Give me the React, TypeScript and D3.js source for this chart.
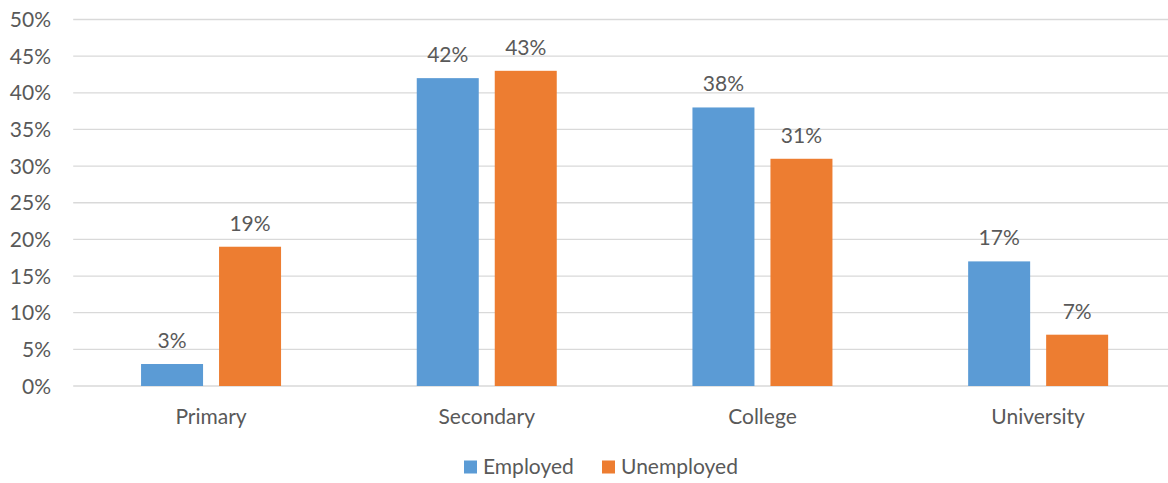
import React from "react";
import * as d3 from "d3";

const categories = ["Primary", "Secondary", "College", "University"];
const seriesNames = ["Employed", "Unemployed"];
const employed = [3, 42, 38, 17];
const unemployed = [19, 43, 31, 7];
const yTicks = [0, 5, 10, 15, 20, 25, 30, 35, 40, 45, 50];
const colors = ["#5B9BD5", "#ED7D31"];

const W = 1168;
const H = 483;
const FONT = "Lato, 'Open Sans', sans-serif";
const FS = 21;
const TXT = "#595959";

export default function App() {
  const left = 73.2;
  const right = 1176;
  const top = 19.5;
  const bottom = 386;
  const x = d3.scaleBand<string>().domain(categories).range([left, right]).paddingInner(0).paddingOuter(0);
  const y = d3.scaleLinear().domain([0, 50]).range([bottom, top]);
  const barW = 62;
  const gap = 16;
  const series = [employed, unemployed];

  return (
    <svg width={W} height={H} style={{ position: "absolute", left: 0, top: 0, background: "#fff" }}>
      <rect x={0} y={0} width={W} height={H} fill="#fff" />
      {yTicks.map((t) => (
        <g key={t}>
          <line x1={left} x2={W} y1={y(t)} y2={y(t)} stroke="#D9D9D9" strokeWidth={1.3} />
          <text x={51} y={y(t)} dy="0.36em" textAnchor="end" fontFamily={FONT} fontSize={FS} fill={TXT}>
            {t}%
          </text>
        </g>
      ))}
      {categories.map((c, i) => {
        const cx = (x(c) as number) + x.bandwidth() / 2;
        return (
          <g key={c}>
            {series.map((s, j) => {
              const bx = cx - gap / 2 - barW + j * (barW + gap);
              const v = s[i];
              return (
                <g key={j}>
                  <rect x={bx} y={y(v)} width={barW} height={bottom - y(v)} fill={colors[j]} />
                  <text x={bx + barW / 2} y={y(v) - 16} textAnchor="middle" fontFamily={FONT} fontSize={FS} fill={TXT}>
                    {v}%
                  </text>
                </g>
              );
            })}
            <text x={cx} y={424} textAnchor="middle" fontFamily={FONT} fontSize={FS} fill={TXT}>
              {c}
            </text>
          </g>
        );
      })}
      {seriesNames.map((n, j) => {
        const lx = j === 0 ? 464 : 602;
        return (
          <g key={n}>
            <rect x={lx} y={460.5} width={13} height={13} fill={colors[j]} />
            <text x={lx + 19} y={474} fontFamily={FONT} fontSize={FS} fill={TXT}>
              {n}
            </text>
          </g>
        );
      })}
    </svg>
  );
}
